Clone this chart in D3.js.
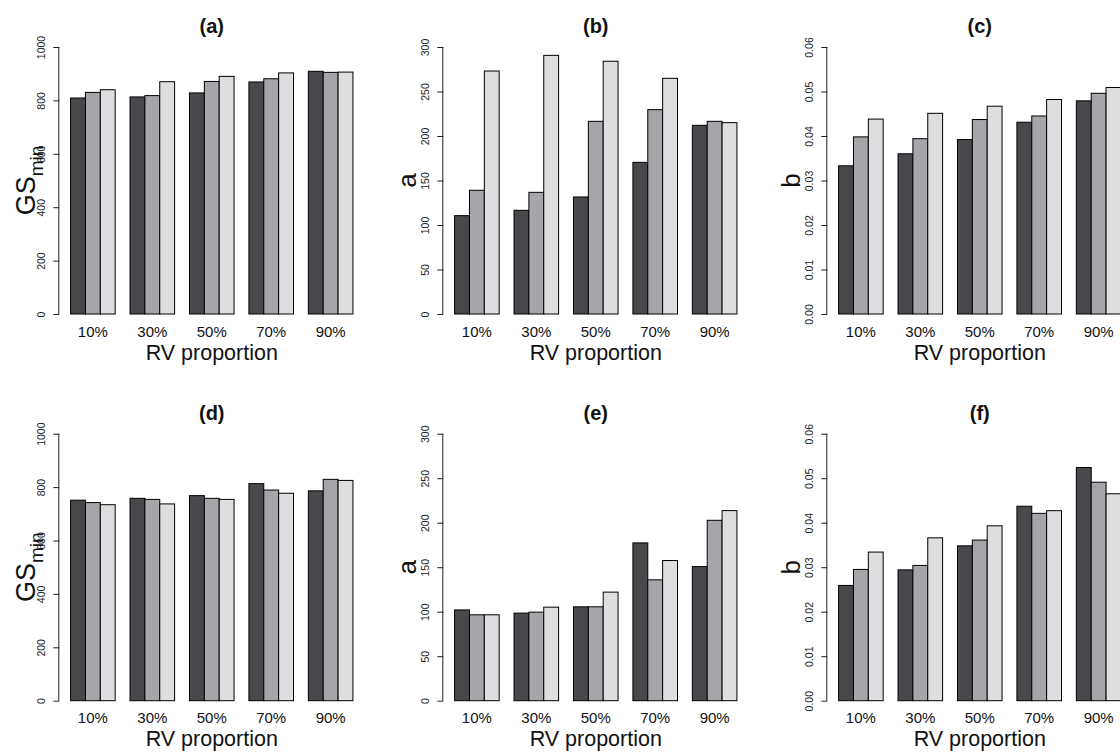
<!DOCTYPE html>
<html>
<head>
<meta charset="utf-8">
<script src="https://cdn.jsdelivr.net/npm/d3@7"></script>
<style>
  html, body { margin: 0; padding: 0; background: #fff; }
  svg { display: block; font-family: "Liberation Sans", Arial, Helvetica, sans-serif; }
</style>
</head>
<body>
<svg id="chart" width="1120" height="756"></svg>
<script>
// ---- data ----
const categories = ["10%", "30%", "50%", "70%", "90%"];
const seriesNames = ["s1", "s2", "s3"];
const seriesColors = ["#48494d", "#a5a6aa", "#dddee0"];

// each inner array: [series1, series2, series3] for one RV proportion
const gsTop    = [[809, 830, 840], [813, 818, 870], [828, 871, 890], [869, 881, 903], [909, 905, 906]];
const aTop     = [[110.5, 139, 273], [116.5, 136.7, 290.6], [131.5, 216.5, 284], [170.4, 229.6, 264.8], [212, 216.5, 215]];
const bTop     = [[0.0333, 0.0398, 0.0438], [0.0360, 0.0394, 0.0451], [0.0392, 0.0437, 0.0467], [0.0431, 0.0445, 0.0482], [0.0479, 0.0496, 0.0509]];
const gsBottom = [[751, 742, 734], [758, 754, 737], [768, 758, 754], [813, 789, 777], [786, 829, 825]];
const aBottom  = [[102, 96.5, 96.5], [98.4, 99.5, 105.1], [105.5, 105.5, 122], [177.3, 135.8, 157.5], [150.7, 202.7, 213.6]];
const bBottom  = [[0.0259, 0.0295, 0.0334], [0.0294, 0.0304, 0.0366], [0.0348, 0.0361, 0.0393], [0.0437, 0.0421, 0.0427], [0.0524, 0.0491, 0.0465]];

const gsTicks = [0, 200, 400, 600, 800, 1000];
const gsTickLabels = ["0", "200", "400", "600", "800", "1000"];
const aTicks = [0, 50, 100, 150, 200, 250, 300];
const aTickLabels = ["0", "50", "100", "150", "200", "250", "300"];
const bTicks = [0, 0.01, 0.02, 0.03, 0.04, 0.05, 0.06];
const bTickLabels = ["0.00", "0.01", "0.02", "0.03", "0.04", "0.05", "0.06"];

const panelTitles = ["(a)", "(b)", "(c)", "(d)", "(e)", "(f)"];
const xTitle = "RV proportion";

// ---- layout ----
const panelW = 384, panelH = 386.7;
const L = 59.3, yTop = 47, yBot = 314;
const unit = 14.86;

const panels = [
  { col: 0, row: 0, data: gsTop,    max: 1000, ticks: gsTicks, labels: gsTickLabels, ylab: "GS" },
  { col: 1, row: 0, data: aTop,     max: 300,  ticks: aTicks,  labels: aTickLabels,  ylab: "a" },
  { col: 2, row: 0, data: bTop,     max: 0.06, ticks: bTicks,  labels: bTickLabels,  ylab: "b" },
  { col: 0, row: 1, data: gsBottom, max: 1000, ticks: gsTicks, labels: gsTickLabels, ylab: "GS" },
  { col: 1, row: 1, data: aBottom,  max: 300,  ticks: aTicks,  labels: aTickLabels,  ylab: "a" },
  { col: 2, row: 1, data: bBottom,  max: 0.06, ticks: bTicks,  labels: bTickLabels,  ylab: "b" }
];

const svg = d3.select("#chart");

panels.forEach((p, pi) => {
  const g = svg.append("g")
    .attr("transform", `translate(${p.col * panelW},${p.row * panelH})`);

  const x0 = d3.scaleBand()
    .domain(categories)
    .range([L + 0.26 * unit, L + 20.26 * unit])
    .paddingInner(0.25)
    .paddingOuter(0.125);
  const x1 = d3.scaleBand()
    .domain(d3.range(seriesNames.length))
    .range([0, x0.bandwidth()]);
  const y = d3.scaleLinear().domain([0, p.max]).range([yBot, yTop]);

  // bars
  const grp = g.selectAll("g.grp")
    .data(p.data)
    .join("g")
    .attr("class", "grp")
    .attr("transform", (d, i) => `translate(${x0(categories[i])},0)`);
  grp.selectAll("rect")
    .data(d => d)
    .join("rect")
    .attr("x", (d, i) => x1(i))
    .attr("y", d => y(d))
    .attr("width", x1.bandwidth())
    .attr("height", d => y(0) - y(d))
    .attr("fill", (d, i) => seriesColors[i])
    .attr("stroke", "#000")
    .attr("stroke-width", 1);

  // y axis
  const yAxis = d3.axisLeft(y)
    .tickValues(p.ticks)
    .tickFormat((d, i) => p.labels[i])
    .tickSize(6)
    .tickPadding(0);
  const ax = g.append("g")
    .attr("transform", `translate(${L},0)`)
    .call(yAxis);
  ax.select(".domain").attr("stroke", "#222").attr("d", `M-0.5,${y(0)}V${y(p.max)}`);
  ax.selectAll(".tick line").attr("stroke", "#222");
  ax.selectAll(".tick text")
    .attr("fill", "#222")
    .attr("font-size", 10.5)
    .attr("font-family", "Liberation Sans, Arial, sans-serif")
    .attr("text-anchor", "middle")
    .attr("dy", null)
    .attr("x", null)
    .attr("transform", "translate(-14,0) rotate(-90)");

  // x category labels
  g.selectAll("text.xcat")
    .data(categories)
    .join("text")
    .attr("class", "xcat")
    .attr("x", d => x0(d) + x0.bandwidth() / 2)
    .attr("y", 336.5)
    .attr("text-anchor", "middle")
    .attr("font-size", 15)
    .attr("fill", "#111")
    .text(d => d);

  // x title
  g.append("text")
    .attr("x", (L + (L + 20.52 * unit)) / 2)
    .attr("y", 359.5)
    .attr("text-anchor", "middle")
    .attr("font-size", 21.5)
    .attr("fill", "#111")
    .text(xTitle);

  // panel title
  g.append("text")
    .attr("x", (L + (L + 20.52 * unit)) / 2)
    .attr("y", 33.3)
    .attr("text-anchor", "middle")
    .attr("font-size", 20)
    .attr("font-weight", "bold")
    .attr("fill", "#111")
    .text(panelTitles[pi]);

  // y title
  const yc = (yTop + yBot) / 2;
  if (p.ylab === "GS") {
    const t = g.append("text")
      .attr("transform", `translate(35,${yc}) rotate(-90)`)
      .attr("text-anchor", "middle")
      .attr("fill", "#111");
    t.append("tspan").attr("font-size", 27).text("GS");
    t.append("tspan").attr("font-size", 19).attr("dy", 8).text("min");
  } else {
    g.append("text")
      .attr("transform", `translate(32,${yc}) rotate(-90)`)
      .attr("text-anchor", "middle")
      .attr("font-size", 26)
      .attr("fill", "#111")
      .text(p.ylab);
  }
});
</script>
</body>
</html>
